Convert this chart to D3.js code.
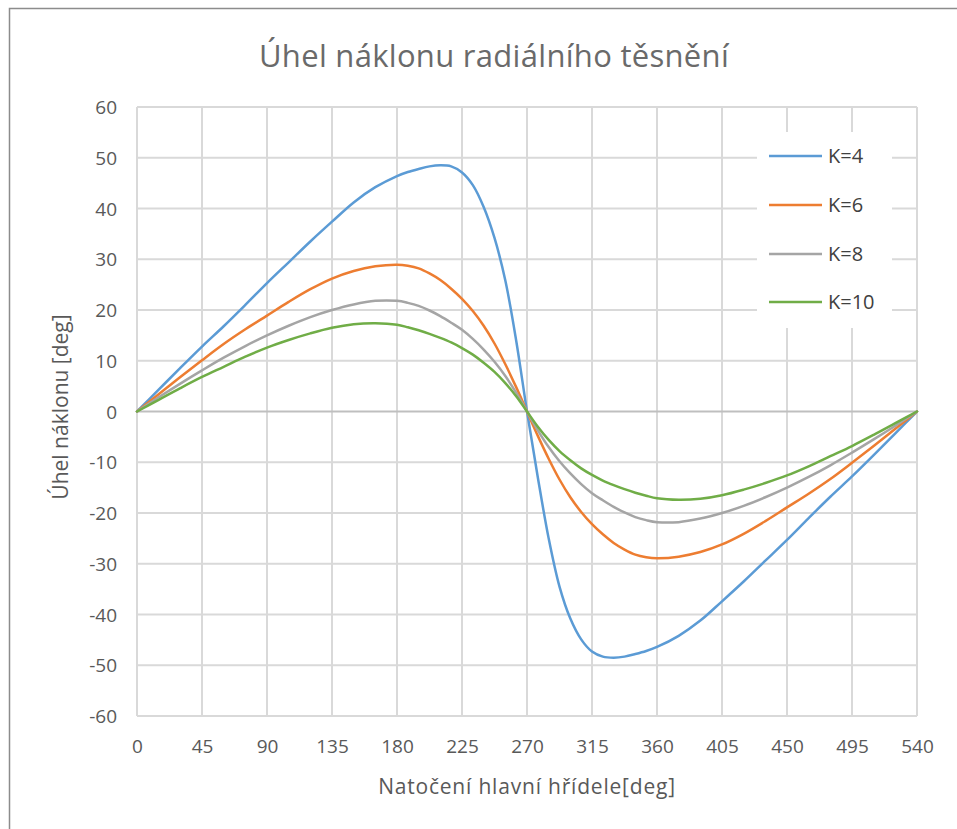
<!DOCTYPE html>
<html>
<head>
<meta charset="utf-8">
<script src="https://cdn.jsdelivr.net/npm/d3@7"></script>
<style>
	body { margin: 0; background: #fff; }
	svg { display: block; }
</style>
</head>
<body>
<svg id="viz"></svg>
<script>
// data
// 15 deg steps on the ends, 7.5 deg steps through the steep middle part
var angles = [0, 15, 30, 45, 60, 75, 90, 105, 120, 135, 150, 165, 180,
	187.5, 195, 202.5, 210, 217.5, 225, 232.5, 240, 247.5, 255, 262.5,
	270,
	277.5, 285, 292.5, 300, 307.5, 315, 322.5, 330, 337.5, 345, 352.5,
	360, 375, 390, 405, 420, 435, 450, 465, 480, 495, 510, 525, 540];

var k4 = [0, 4.3, 8.6, 12.8, 16.8, 21.0, 25.3, 29.4, 33.5, 37.4, 41.2, 44.2, 46.4,
	47.2, 47.8, 48.3, 48.5, 48.3, 47.1, 44.6, 40.3, 34.2, 25.8, 14.0,
	0,
	-13.0, -25.0, -34.5, -40.8, -44.9, -47.3, -48.3, -48.5, -48.3, -47.8, -47.2,
	-46.4, -44.2, -41.2, -37.4, -33.5, -29.4, -25.3, -21.0, -16.8, -12.8, -8.6, -4.3, 0];

var k6 = [0, 3.4, 6.8, 10.1, 13.3, 16.2, 18.9, 21.6, 24.1, 26.2, 27.7, 28.6, 28.9,
	28.7, 28.2, 27.2, 25.9, 24.2, 22.2, 19.8, 16.9, 13.4, 9.3, 4.8,
	0,
	-4.8, -9.3, -13.4, -16.9, -19.8, -22.2, -24.2, -25.9, -27.2, -28.2, -28.7,
	-28.9, -28.6, -27.7, -26.2, -24.1, -21.6, -18.9, -16.2, -13.3, -10.1, -6.8, -3.4, 0];

var k8 = [0, 2.8, 5.5, 8.1, 10.6, 12.9, 15.0, 16.9, 18.6, 20.0, 21.1, 21.8, 21.8,
	21.4, 20.8, 19.9, 18.8, 17.5, 16.1, 14.3, 12.2, 9.8, 7.0, 3.7,
	0,
	-3.7, -7.0, -9.8, -12.2, -14.3, -16.1, -17.5, -18.8, -19.9, -20.8, -21.4,
	-21.8, -21.8, -21.1, -20.0, -18.6, -16.9, -15.0, -12.9, -10.6, -8.1, -5.5, -2.8, 0];

var k10 = [0, 2.3, 4.6, 6.8, 8.8, 10.8, 12.6, 14.1, 15.4, 16.5, 17.2, 17.4, 17.1,
	16.6, 16.0, 15.3, 14.5, 13.6, 12.5, 11.2, 9.6, 7.8, 5.6, 3.0,
	0,
	-3.0, -5.6, -7.8, -9.6, -11.2, -12.5, -13.6, -14.5, -15.3, -16.0, -16.6,
	-17.1, -17.4, -17.2, -16.5, -15.4, -14.1, -12.6, -10.8, -8.8, -6.8, -4.6, -2.3, 0];

var seriesNames = ["K=4", "K=6", "K=8", "K=10"];
var seriesValues = [k4, k6, k8, k10];
var colors = ["#5b9bd5", "#ed7d31", "#a5a5a5", "#70ad47"];

var xTicks = d3.range(0, 541, 45);
var yTicks = d3.range(-60, 61, 10);

var width = 957;
var height = 829;
var font = "'Open Sans', 'DejaVu Sans', sans-serif";
var textColor = "#595959";

var svg = d3.select("#viz")
	.attr("width", width)
	.attr("height", height)
	.style("font-family", font)

var scaleX = d3.scaleLinear().domain([0, 540]).range([137, 917])
var scaleY = d3.scaleLinear().domain([-60, 60]).range([716, 107])

// chart border (runs off the right and bottom edge)
svg.append("rect")
	.attr("x", 9.5)
	.attr("y", 8.5)
	.attr("width", 1000)
	.attr("height", 900)
	.style("fill", "#fff")
	.style("stroke", "#8c8c8c")
	.style("stroke-width", 1.5)

// title
svg.append("text")
	.attr("x", 494)
	.attr("y", 67)
	.attr("text-anchor", "middle")
	.style("font-size", "31px")
	.style("letter-spacing", "0.3px")
	.style("fill", "#6a6a6a")
	.text("Úhel náklonu radiálního těsnění")

// grid
svg.append("g")
	.selectAll("line")
	.data(yTicks.filter(d => d != 0))
	.join("line")
	.attr("x1", scaleX(0))
	.attr("x2", scaleX(540))
	.attr("y1", d => scaleY(d))
	.attr("y2", d => scaleY(d))
	.style("stroke", "#d9d9d9")
	.style("stroke-width", 2)

svg.append("g")
	.selectAll("line")
	.data(xTicks)
	.join("line")
	.attr("x1", d => scaleX(d))
	.attr("x2", d => scaleX(d))
	.attr("y1", scaleY(60))
	.attr("y2", scaleY(-60))
	.style("stroke", "#d9d9d9")
	.style("stroke-width", 2)

// zero line
svg.append("line")
	.attr("x1", scaleX(0))
	.attr("x2", scaleX(540))
	.attr("y1", scaleY(0))
	.attr("y2", scaleY(0))
	.style("stroke", "#bfbfbf")
	.style("stroke-width", 2)

// axes, d3 axis used for the labels only (plain hyphen minus like Excel)
var yAxis = svg.append("g")
	.attr("transform", "translate(117,0)")
	.call(d3.axisLeft(scaleY).tickValues(yTicks).tickFormat(d => String(d)).tickSize(0).tickPadding(0))
yAxis.select(".domain").remove()
yAxis.selectAll("text")
	.style("font-family", font)
	.style("font-size", "19px")
	.style("fill", textColor)
	.attr("dy", "0.35em")

var xAxis = svg.append("g")
	.attr("transform", "translate(0,735)")
	.call(d3.axisBottom(scaleX).tickValues(xTicks).tickFormat(d => String(d)).tickSize(0).tickPadding(0))
xAxis.select(".domain").remove()
xAxis.selectAll("text")
	.style("font-family", font)
	.style("font-size", "19px")
	.style("fill", textColor)
	.attr("dy", "0.95em")

// axis titles
svg.append("text")
	.attr("x", 527)
	.attr("y", 794)
	.attr("text-anchor", "middle")
	.style("font-size", "21px")
	.style("letter-spacing", "0.8px")
	.style("fill", textColor)
	.text("Natočení hlavní hřídele[deg]")

svg.append("text")
	.attr("transform", "translate(68,407) rotate(-90)")
	.attr("text-anchor", "middle")
	.style("font-size", "21px")
	.style("fill", textColor)
	.text("Úhel náklonu [deg]")

// series
var line = d3.line()
	.x((d, i) => scaleX(angles[i]))
	.y(d => scaleY(d))
	.curve(d3.curveCatmullRom.alpha(0.5))

svg.append("g")
	.selectAll("path")
	.data(seriesValues)
	.join("path")
	.attr("d", d => line(d))
	.style("fill", "none")
	.style("stroke", (d, i) => colors[i])
	.style("stroke-width", 2.5)
	.style("stroke-linejoin", "round")
	.style("stroke-linecap", "round")

// legend
var legend = svg.append("g")

legend.append("rect")
	.attr("x", 757)
	.attr("y", 132)
	.attr("width", 135)
	.attr("height", 196)
	.style("fill", "#fff")

var legendY = [156, 205, 254, 302];

var items = legend.selectAll(".item")
	.data(seriesNames)
	.join("g")
	.attr("class", "item")
	.attr("transform", (d, i) => "translate(0," + legendY[i] + ")")

items.append("line")
	.attr("x1", 769)
	.attr("x2", 822)
	.style("stroke", (d, i) => colors[i])
	.style("stroke-width", 2.5)

items.append("text")
	.attr("x", 828)
	.attr("dy", "0.35em")
	.style("font-size", "20px")
	.style("fill", "#404040")
	.text(d => d)
</script>
</body>
</html>
